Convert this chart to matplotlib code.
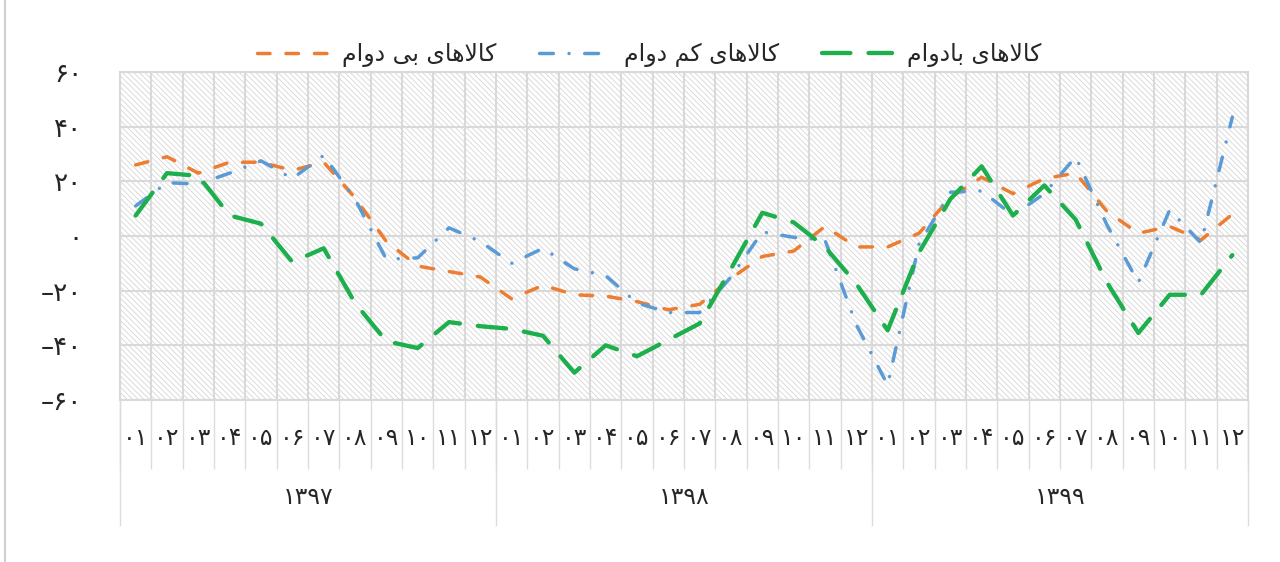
import numpy as np
import matplotlib
matplotlib.use('Agg')
import matplotlib.pyplot as plt
from matplotlib.patches import Rectangle
from matplotlib.lines import Line2D
import matplotlib.transforms as mtransforms

years = ['۱۳۹۷', '۱۳۹۸', '۱۳۹۹']
months = ['۰۱', '۰۲', '۰۳', '۰۴', '۰۵', '۰۶', '۰۷', '۰۸', '۰۹', '۱۰', '۱۱', '۱۲']

series_names = ['کالاهای بی دوام', 'کالاهای کم دوام', 'کالاهای بادوام']

non_durable = [26, 29, 23, 27, 27, 24, 27, 14, -2, -11, -13, -15,
               -23, -18, -21.5, -22, -24, -27, -25, -15.5, -7.5, -5.5, 3.5, -4,
               -4, 1, 14, 21.5, 15.5, 21, 23, 9, 1, 3.5, -1.5, 8]
semi_durable = [11, 19.5, 19, 23, 27.5, 21, 29.5, 13.5, -8.5, -8, 3, -2,
                -10, -4.5, -12, -14.5, -24.5, -28, -28, -15, 1.5, -0.5, -1.5, -32.5,
                -54.5, -3, 16, 16.5, 7.5, 15.5, 29, 4, -17, 9.5, -2.5, 43.5]
durable = [7.5, 23, 22, 7.5, 4.5, -9.5, -4.5, -24.5, -38.5, -41, -31.5, -33,
           -34, -36.5, -50, -40, -44, -38, -32, -12, 8.5, 5, -4, -17.5,
           -34.5, -6, 13.5, 25.5, 7.5, 18.5, 6, -17, -35.5, -21.5, -21.5, -7]

colors = ['#ED7D31', '#5B9BD5', '#1DAF4C']

FORMS = {
    'ا': ('\uFE8D', '\uFE8E', None, None),
    'ب': ('\uFE8F', '\uFE90', '\uFE91', '\uFE92'),
    'د': ('\uFEA9', '\uFEAA', None, None),
    'ک': ('\uFB8E', '\uFB8F', '\uFB90', '\uFB91'),
    'ل': ('\uFEDD', '\uFEDE', '\uFEDF', '\uFEE0'),
    'م': ('\uFEE1', '\uFEE2', '\uFEE3', '\uFEE4'),
    'ه': ('\uFEE9', '\uFEEA', '\uFEEB', '\uFEEC'),
    'و': ('\uFEED', '\uFEEE', None, None),
    'ی': ('\uFBFC', '\uFBFD', '\uFBFE', '\uFBFF'),
}


def rtl(text):
    # matplotlib has no text shaping: pick the joined forms and reverse
    units = []
    i = 0
    while i < len(text):
        if text[i] == 'ل' and i + 1 < len(text) and text[i + 1] == 'ا':
            units.append('LA')
            i += 2
        else:
            units.append(text[i])
            i += 1

    def joins_next(u):
        return u in FORMS and FORMS[u][2] is not None

    def joins_prev(u):
        return u == 'LA' or u in FORMS

    out = []
    for k, u in enumerate(units):
        p = k > 0 and joins_next(units[k - 1]) and joins_prev(u)
        n = k + 1 < len(units) and joins_next(u) and joins_prev(units[k + 1])
        if u == 'LA':
            out.append('\uFEFC' if p else '\uFEFB')
        elif u in FORMS:
            iso, fin, ini, med = FORMS[u]
            if p and n:
                out.append(med)
            elif p:
                out.append(fin)
            elif n:
                out.append(ini)
            else:
                out.append(iso)
        else:
            out.append(u)
    return ''.join(reversed(out))


def fa_number(v):
    digits = str(abs(int(v))).translate(str.maketrans('0123456789', '۰۱۲۳۴۵۶۷۸۹'))
    return ('\u2013' + digits) if v < 0 else digits


plt.rcParams['font.family'] = ['DejaVu Sans']
plt.rcParams['hatch.linewidth'] = 0.6

fig = plt.figure(figsize=(12.8, 5.62), dpi=100)
ax = fig.add_axes([120 / 1280, 1 - 400 / 562, 1128 / 1280, 328 / 562])

ax.add_patch(Rectangle((0, 0), 1, 1, transform=ax.transAxes, facecolor='white',
                       edgecolor='#d6d6d6', linewidth=0, hatch='\\' * 6, zorder=0))

labels = months * len(years)
x = np.arange(len(labels))

styles = [
    dict(lw=2.5, dashes=(3.6, 4.6)),
    dict(lw=2.5, dashes=(4.0, 4.5, 0.01, 4.5)),
    dict(lw=3.1, dashes=(6.6, 4.2)),
]
for vals, name, c, st in zip([non_durable, semi_durable, durable], series_names, colors, styles):
    ax.plot(x, vals, color=c, label=rtl(name), dash_capstyle='round',
            solid_capstyle='round', zorder=3, **st)

ax.set_xlim(-0.5, len(labels) - 0.5)
ax.set_ylim(-60, 60)
yt = np.arange(-60, 61, 20)
ax.set_yticks(yt)
ax.set_yticklabels([fa_number(v) for v in yt], fontsize=19, color='#262626')
ax.tick_params(axis='y', length=0, pad=27)

ax.set_xticks(x)
ax.set_xticklabels(labels, fontsize=17, color='#262626')
ax.set_xticks(np.arange(-0.5, len(labels), 1), minor=True)
ax.tick_params(axis='x', which='major', length=0, pad=19)
ax.tick_params(axis='x', which='minor', length=50, width=1.0, color='#dcdcdc')

ax.set_axisbelow(True)
ax.grid(which='major', axis='y', color='#d9d9d9', lw=1.5)
ax.grid(which='minor', axis='x', color='#d9d9d9', lw=1.5)
for s in ax.spines.values():
    s.set_color('#d9d9d9')
    s.set_linewidth(1.5)

trans = mtransforms.blended_transform_factory(ax.transData, ax.transAxes)
for k in range(len(years) + 1):
    xb = k * len(months) - 0.5
    ax.plot([xb, xb], [0, -125 / 328], transform=trans, color='#dcdcdc', lw=1.0, clip_on=False)
for k, yr in enumerate(years):
    ax.text(k * len(months) + (len(months) - 1) / 2, -97 / 328, yr, transform=trans,
            ha='center', va='center', fontsize=17, color='#262626')

ax.legend(loc='center', bbox_to_anchor=(0.469, 1.052), ncol=3, frameon=False,
          fontsize=17, handlelength=3.0, columnspacing=1.8, handletextpad=0.6,
          labelcolor='#262626')

fig.add_artist(Line2D([5 / 1280, 5 / 1280], [0, 1], color='#d0d0d0', lw=1.5))

fig.savefig('out.png', dpi=100)
